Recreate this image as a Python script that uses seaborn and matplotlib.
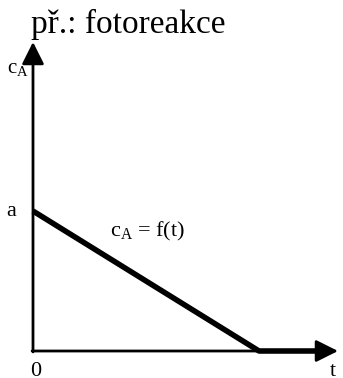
import numpy as np
import pandas as pd
import seaborn as sns
import matplotlib
matplotlib.use("Agg")
import matplotlib.pyplot as plt

# Data (arbitrary units: axes run 0..1)
t = [0.0, 0.741, 0.957]
c_A = [0.453, 0.0, 0.0]

title = "př.: fotoreakce"
ylab = "c$_{\\mathrm{A}}$"
curve_lab = "c$_{\\mathrm{A}}$ = f(t)"

sns.set_style("white")
plt.rcParams["font.family"] = ["Liberation Serif", "DejaVu Serif"]
plt.rcParams["mathtext.fontset"] = "custom"
plt.rcParams["mathtext.rm"] = "Liberation Serif"
plt.rcParams["mathtext.it"] = "Liberation Serif:italic"
plt.rcParams["text.color"] = "black"

W, H = 343, 378
fig = plt.figure(figsize=(W / 100, H / 100), dpi=100)
ax = fig.add_axes([33 / W, (H - 351) / H, 305 / W, 309 / H])

df = pd.DataFrame({"t": t, "c": c_A})
sns.lineplot(data=df, x="t", y="c", sort=False, color="black", lw=4,
             solid_capstyle="butt", ax=ax, clip_on=False)

ax.set_xlim(0, 1)
ax.set_ylim(0, 1)
for s in ax.spines.values():
    s.set_visible(False)
ax.set_xticks([])
ax.set_yticks([])
ax.set_xlabel("")
ax.set_ylabel("")

# axes with arrows
arrow = dict(arrowstyle="-|>,head_length=0.9,head_width=0.45", lw=2,
             color="black", mutation_scale=15, shrinkA=0, shrinkB=0)
ax.annotate("", xy=(1, 0), xytext=(-0.003, 0), xycoords="axes fraction",
            arrowprops=arrow, annotation_clip=False)
ax.annotate("", xy=(0, 1), xytext=(0, -0.003), xycoords="axes fraction",
            arrowprops=arrow, annotation_clip=False)

fig.text(31 / W, 1 - 33 / H, title, fontsize=24, ha="left", va="baseline")
fig.text(7 / W, 1 - 68 / H, ylab, fontsize=15, ha="left", va="center")
ax.text(-0.07, c_A[0], "a", fontsize=16, ha="center", va="center",
        transform=ax.transAxes)
fig.text(36 / W, 1 - 371 / H, "0", fontsize=16, ha="center", va="center")
fig.text(333 / W, 1 - 371 / H, "t", fontsize=16, ha="center", va="center")
fig.text(110 / W, 1 - 231 / H, curve_lab, fontsize=16, ha="left", va="center")

fig.savefig("out.png", dpi=100)
